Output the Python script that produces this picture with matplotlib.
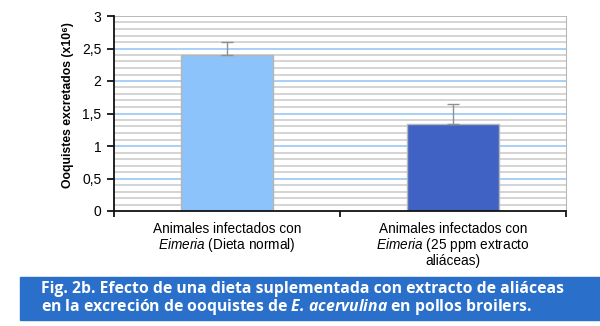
import matplotlib
matplotlib.use("Agg")
import matplotlib.pyplot as plt
from matplotlib.patches import Rectangle
import numpy as np

categories = ["Animales infectados con\n$\\mathit{Eimeria}$ (Dieta normal)",
              "Animales infectados con\n$\\mathit{Eimeria}$ (25 ppm extracto\naliáceas)"]
values = [2.4, 1.34]
errors = [0.2, 0.31]
yticks = [0, 0.5, 1, 1.5, 2, 2.5, 3]
ytick_labels = ["0", "0,5", "1", "1,5", "2", "2,5", "3"]
ylabel = "Ooquistes excretados (x10⁶)"
caption1 = "Fig. 2b. Efecto de una dieta suplementada con extracto de aliáceas"
caption2 = "en la excreción de ooquistes de $\\mathbfit{E.\\,acervulina}$ en pollos broilers."

plt.rcParams['mathtext.fontset'] = 'custom'
plt.rcParams['mathtext.it'] = 'Liberation Sans:italic'
plt.rcParams['mathtext.rm'] = 'Liberation Sans'
plt.rcParams['mathtext.bfit'] = 'Open Sans:italic:bold'
plt.rcParams['font.family'] = ['Liberation Sans', 'DejaVu Sans']

fig = plt.figure(figsize=(6, 3.26), dpi=100)
ax = fig.add_axes([114/600, 1-211/326, 452/600, 195/326])

x = np.arange(len(values))
ax.set_xlim(-0.5, 1.5)
ax.set_ylim(0, 3)

# grid
for v in np.arange(0.1, 3.0, 0.1):
    if abs(v*2 - round(v*2)) < 1e-6:
        continue
    ax.axhline(v, color='#d4d4d4', lw=1.4, zorder=0)
for v in [0.5, 1, 1.5, 2, 2.5]:
    ax.axhline(v, color='#a8cff5', lw=1.4, zorder=0)
ax.axhline(3, color='#b8b8b8', lw=1.4, zorder=0)

ax.bar(x, values, width=0.41, color=['#8cc3fa', '#3f62c4'],
       edgecolor='#b5b5b5', linewidth=1.0, zorder=2)
ax.errorbar(x, values, yerr=[[0, 0], errors], fmt='none', ecolor='#909090',
            elinewidth=1.0, capsize=4, capthick=1.0, zorder=3)

ax.set_yticks(yticks)
ax.set_yticklabels(ytick_labels, fontsize=10)
ax.set_xticks(x)
ax.set_xticklabels(categories, fontsize=9.8, linespacing=1.0)
ax.set_xticks([-0.5, 0.5, 1.5], minor=True)
ax.tick_params(axis='x', which='major', length=0, pad=8)
ax.tick_params(axis='x', which='minor', length=4, direction='out', width=1.2)
ax.tick_params(axis='y', length=5, direction='out', width=1.2, pad=4)

for s in ['left', 'bottom']:
    ax.spines[s].set_color('#111111')
    ax.spines[s].set_linewidth(1.3)
ax.spines['right'].set_color('#b8b8b8')
ax.spines['top'].set_visible(False)

fig.text(68/600, 1-105/326, ylabel, rotation=90, ha='center', va='center',
         fontsize=8.8, fontweight='bold')

# caption box
fig.patches.append(Rectangle((20/600, 1-320/326), 580/600, 43/326,
                             transform=fig.transFigure, color='#2a6fca', zorder=0))
fig.text(41/600, 1-289/326, caption1, color='white', fontsize=11.3,
         fontweight='bold', family='Open Sans', va='center', ha='left')
fig.text(41/600, 1-307/326, caption2, color='white', fontsize=11.3,
         fontweight='bold', family='Open Sans', va='center', ha='left')

fig.savefig('out.png', dpi=100)
